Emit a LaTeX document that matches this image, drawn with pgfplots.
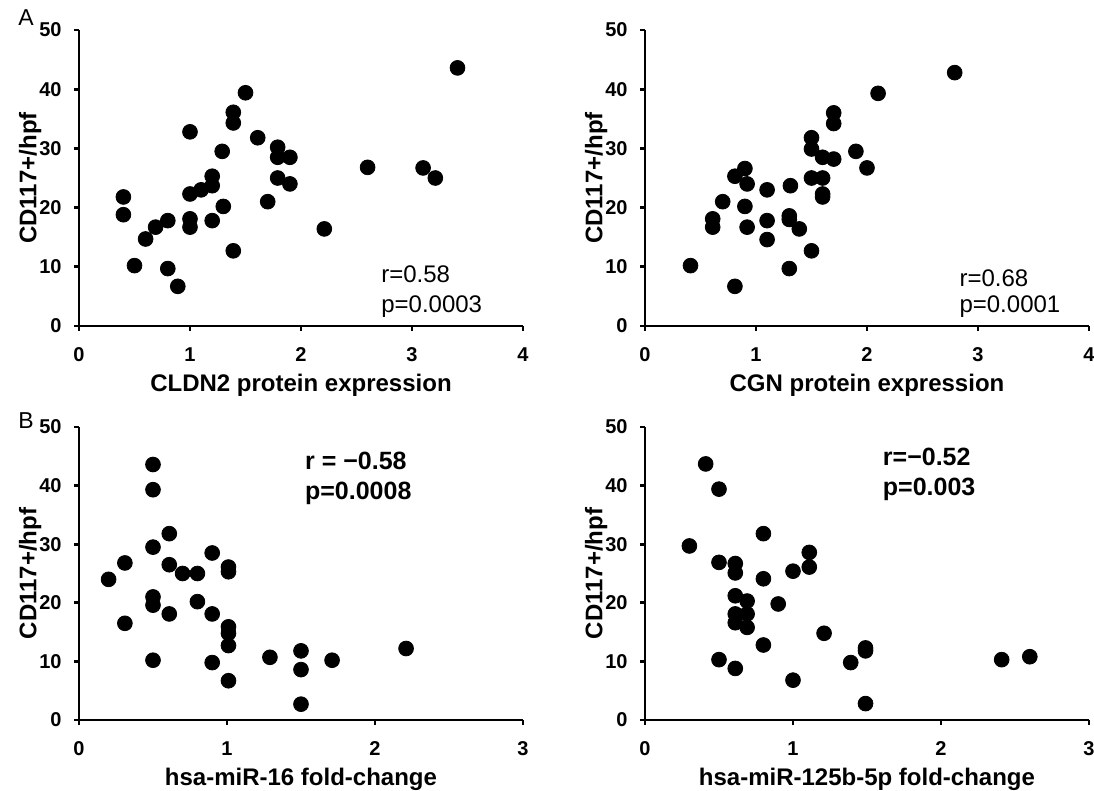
\documentclass[border=0pt]{standalone}
\usepackage{fontspec}
\setmainfont{Liberation Sans}
\usepackage{pgfplots}
\pgfplotsset{compat=1.18}

\pgfplotsset{
  panel/.style={
    scale only axis, width=222pt,
    axis x line*=bottom, axis y line*=left,
    xmin=0, ymin=0, ymax=50, ytick={0,10,...,50},
    tick align=outside, major tick length=2.5pt,
    axis line style={line width=1.35pt},
    every tick/.style={black,line width=1.35pt},
    tick label style={font=\fontsize{10}{11}\selectfont\bfseries,inner sep=0pt},
    /pgf/number format/assume math mode=true,
    xticklabel style={anchor=north,yshift=-8pt},
    yticklabel style={anchor=east,xshift=-6pt},
    label style={font=\fontsize{12}{14}\selectfont\bfseries},
    xlabel style={at={(axis description cs:0.5,0)},anchor=center,yshift=-29.5pt},
    ylabel style={at={(axis description cs:-0.11,0.5)},anchor=center},
    ylabel={CD117+/hpf},
    clip=false,
  },
  dots/.style={only marks,mark=*,draw=black,fill=black,
    mark options={draw=black,fill=black},mark size=3.7pt},
}
\tikzset{
  annA/.style={anchor=base west,font=\fontsize{12}{14}\selectfont},
  annB/.style={anchor=base west,font=\fontsize{12.5}{14}\selectfont\bfseries},
}

\begin{document}
\begin{tikzpicture}
\useasboundingbox (0,0) rectangle (547pt,-395.5pt);

% A, left: CLDN2
\begin{axis}[panel,at={(39.5pt,-163pt)},anchor=south west,height=148pt,
  xmax=4,xtick={0,1,2,3,4},xlabel={CLDN2 protein expression}]
\addplot[dots] coordinates {
  (3.41,43.6)(1.50,39.4)(1.39,36.1)(1.39,34.3)(1.00,32.8)(1.61,31.8)
  (1.29,29.5)(1.79,30.2)(1.79,28.5)(1.90,28.5)(2.60,26.8)(3.10,26.7)
  (3.21,25.0)(1.20,25.3)(1.20,23.7)(1.10,23.0)(1.00,22.3)(1.79,25.0)
  (1.90,24.0)(0.40,21.8)(0.40,18.8)(1.70,21.0)(1.30,20.2)(1.00,18.1)
  (1.00,16.7)(0.80,17.8)(0.69,16.7)(1.20,17.8)(0.60,14.7)(2.21,16.4)
  (1.39,12.7)(0.50,10.2)(0.80,9.7)(0.89,6.7)};
\node[annA] at (axis cs:2.66,7.3) {r=0.58};
\node[annA] at (axis cs:2.66,2.2) {p=0.0003};
\end{axis}
\node[font=\fontsize{11.5}{13}\selectfont] at (13pt,-9pt) {A};

% A, right: CGN
\begin{axis}[panel,at={(322.5pt,-163pt)},anchor=south west,height=148pt,
  xmax=4,xtick={0,1,2,3,4},xlabel={CGN protein expression}]
\addplot[dots] coordinates {
  (2.79,42.8)(2.10,39.3)(1.70,36.0)(1.70,34.2)(1.50,31.8)(1.50,29.9)
  (1.90,29.5)(1.60,28.5)(1.70,28.2)(2.00,26.7)(0.90,26.6)(0.81,25.3)
  (1.50,25.0)(1.60,25.0)(0.92,24.0)(1.10,23.0)(1.31,23.7)(1.60,22.3)
  (1.60,21.8)(0.70,21.0)(0.90,20.2)(0.61,18.1)(0.61,16.7)(0.92,16.7)
  (1.10,17.8)(1.10,14.6)(1.30,18.6)(1.30,18.0)(1.39,16.4)(1.50,12.7)
  (0.41,10.2)(1.30,9.7)(0.81,6.7)};
\node[annA] at (axis cs:2.77,6.6) {r=0.68};
\node[annA] at (axis cs:2.77,2.2) {p=0.0001};
\end{axis}

% B, left: hsa-miR-16
\begin{axis}[panel,at={(39.5pt,-360pt)},anchor=south west,height=146.5pt,
  xmax=3,xtick={0,1,2,3},xlabel={hsa-miR-16 fold-change}]
\addplot[dots] coordinates {
  (0.50,43.6)(0.50,39.3)(0.61,31.8)(0.50,29.5)(0.90,28.5)(0.31,26.8)
  (0.61,26.5)(0.70,25.0)(0.80,25.0)(1.01,26.1)(1.01,25.3)(0.20,24.0)
  (0.50,21.0)(0.50,19.6)(0.80,20.2)(0.61,18.1)(0.90,18.1)(0.31,16.5)
  (1.01,15.9)(1.01,14.8)(1.01,12.7)(0.50,10.2)(0.90,9.8)(1.01,6.7)
  (1.29,10.7)(1.50,11.8)(1.50,8.6)(1.71,10.2)(2.21,12.2)(1.50,2.7)};
\node[annB] at (axis cs:1.48,42.7) {r = −0.58};
\node[annB] at (axis cs:1.48,37.6) {p=0.0008};
\end{axis}
\node[font=\fontsize{11.5}{13}\selectfont] at (13pt,-210.5pt) {B};

% B, right: hsa-miR-125b-5p
\begin{axis}[panel,at={(322.5pt,-360pt)},anchor=south west,height=146.5pt,
  xmax=3,xtick={0,1,2,3},xlabel={hsa-miR-125b-5p fold-change}]
\addplot[dots] coordinates {
  (0.41,43.7)(0.50,39.4)(0.30,29.7)(0.80,31.8)(1.11,28.6)(1.11,26.1)
  (0.50,26.9)(0.61,26.7)(0.61,25.1)(1.00,25.4)(0.80,24.1)(0.61,21.2)
  (0.69,20.3)(0.90,19.8)(0.61,18.1)(0.69,18.1)(0.61,16.6)(0.69,15.8)
  (1.21,14.8)(0.80,12.8)(1.49,12.3)(1.49,11.8)(0.50,10.3)(1.39,9.8)
  (0.61,8.8)(1.00,6.8)(1.49,2.8)(2.41,10.3)(2.60,10.8)};
\node[annB] at (axis cs:1.56,43.4) {r=−0.52};
\node[annB] at (axis cs:1.56,38.3) {p=0.003};
\end{axis}
\end{tikzpicture}
\end{document}
